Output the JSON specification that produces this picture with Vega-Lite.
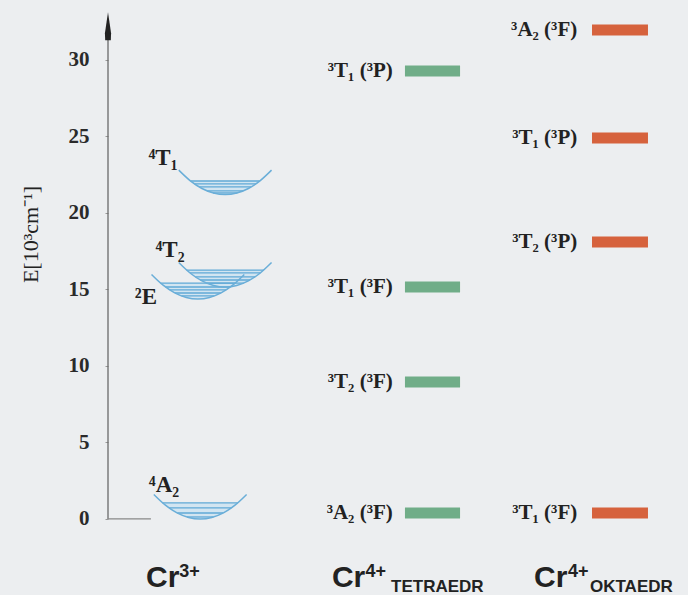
{
  "$schema": "https://vega.github.io/schema/vega-lite/v6.json",
  "width": 580,
  "height": 595,
  "autosize": "none",
  "padding": {"left": 108, "top": 0, "right": 0, "bottom": 0},
  "background": "#eceef0",
  "config": {"view": {"stroke": null}, "axis": {"grid": false}},
  "datasets": {
    "curves": [
      {"well": "4A2", "u": 7.9, "v": 1.6}, {"well": "4A2", "u": 9.9, "v": 0.9}, {"well": "4A2", "u": 11.9, "v": 0.4}, {"well": "4A2", "u": 13.9, "v": 0.1}, {"well": "4A2", "u": 15.9, "v": 0}, {"well": "4A2", "u": 17.9, "v": 0.1}, {"well": "4A2", "u": 19.9, "v": 0.4}, {"well": "4A2", "u": 21.9, "v": 0.9}, {"well": "4A2", "u": 23.9, "v": 1.6},
      {"well": "4T1", "u": 12.2, "v": 22.8}, {"well": "4T1", "u": 14.2, "v": 22.1}, {"well": "4T1", "u": 16.2, "v": 21.6}, {"well": "4T1", "u": 18.2, "v": 21.3}, {"well": "4T1", "u": 20.2, "v": 21.2}, {"well": "4T1", "u": 22.2, "v": 21.3}, {"well": "4T1", "u": 24.2, "v": 21.6}, {"well": "4T1", "u": 26.2, "v": 22.1}, {"well": "4T1", "u": 28.2, "v": 22.8},
      {"well": "4T2", "u": 12.2, "v": 16.76}, {"well": "4T2", "u": 14.2, "v": 16.06}, {"well": "4T2", "u": 16.2, "v": 15.56}, {"well": "4T2", "u": 18.2, "v": 15.26}, {"well": "4T2", "u": 20.2, "v": 15.16}, {"well": "4T2", "u": 22.2, "v": 15.26}, {"well": "4T2", "u": 24.2, "v": 15.56}, {"well": "4T2", "u": 26.2, "v": 16.06}, {"well": "4T2", "u": 28.2, "v": 16.76},
      {"well": "2E", "u": 7.5, "v": 15.98}, {"well": "2E", "u": 9.5, "v": 15.28}, {"well": "2E", "u": 11.5, "v": 14.78}, {"well": "2E", "u": 13.5, "v": 14.48}, {"well": "2E", "u": 15.5, "v": 14.38}, {"well": "2E", "u": 17.5, "v": 14.48}, {"well": "2E", "u": 19.5, "v": 14.78}, {"well": "2E", "u": 21.5, "v": 15.28}, {"well": "2E", "u": 23.5, "v": 15.98}
    ],
    "fills": [
      {"well": "4A2", "u": 9.42, "v": 1.05, "v2": 1.05}, {"well": "4A2", "u": 11.9, "v": 0.4, "v2": 1.05}, {"well": "4A2", "u": 13.9, "v": 0.1, "v2": 1.05}, {"well": "4A2", "u": 15.9, "v": 0, "v2": 1.05}, {"well": "4A2", "u": 17.9, "v": 0.1, "v2": 1.05}, {"well": "4A2", "u": 19.9, "v": 0.4, "v2": 1.05}, {"well": "4A2", "u": 22.38, "v": 1.05, "v2": 1.05},
      {"well": "4T1", "u": 14.23, "v": 22.09, "v2": 22.09}, {"well": "4T1", "u": 16.2, "v": 21.6, "v2": 22.09}, {"well": "4T1", "u": 18.2, "v": 21.3, "v2": 22.09}, {"well": "4T1", "u": 20.2, "v": 21.2, "v2": 22.09}, {"well": "4T1", "u": 22.2, "v": 21.3, "v2": 22.09}, {"well": "4T1", "u": 24.2, "v": 21.6, "v2": 22.09}, {"well": "4T1", "u": 26.17, "v": 22.09, "v2": 22.09},
      {"well": "2E", "u": 9.05, "v": 15.42, "v2": 15.42}, {"well": "2E", "u": 9.5, "v": 15.28, "v2": 15.42}, {"well": "2E", "u": 11.5, "v": 14.78, "v2": 15.42}, {"well": "2E", "u": 13.5, "v": 14.48, "v2": 15.42}, {"well": "2E", "u": 15.5, "v": 14.38, "v2": 15.42}, {"well": "2E", "u": 17.5, "v": 14.48, "v2": 15.42}, {"well": "2E", "u": 19.5, "v": 14.78, "v2": 15.42}, {"well": "2E", "u": 21.5, "v": 15.28, "v2": 15.42}, {"well": "2E", "u": 21.95, "v": 15.42, "v2": 15.42},
      {"well": "4T2", "u": 13.54, "v": 16.27, "v2": 16.27}, {"well": "4T2", "u": 14.2, "v": 16.06, "v2": 16.27}, {"well": "4T2", "u": 16.2, "v": 15.56, "v2": 16.27}, {"well": "4T2", "u": 18.2, "v": 15.26, "v2": 16.27}, {"well": "4T2", "u": 20.2, "v": 15.16, "v2": 16.27}, {"well": "4T2", "u": 22.2, "v": 15.26, "v2": 16.27}, {"well": "4T2", "u": 24.2, "v": 15.56, "v2": 16.27}, {"well": "4T2", "u": 26.2, "v": 16.06, "v2": 16.27}, {"well": "4T2", "u": 26.86, "v": 16.27, "v2": 16.27}
    ],
    "levels": [
      {"well": "4A2", "v": 1.05, "u": 9.42, "u2": 22.38}, {"well": "4A2", "v": 0.72, "u": 10.53, "u2": 21.27}, {"well": "4A2", "v": 0.39, "u": 11.95, "u2": 19.85}, {"well": "4A2", "v": 0.13, "u": 13.62, "u2": 18.18},
      {"well": "4T1", "v": 22.09, "u": 14.23, "u2": 26.17}, {"well": "4T1", "v": 21.9, "u": 14.91, "u2": 25.49}, {"well": "4T1", "v": 21.7, "u": 15.73, "u2": 24.67}, {"well": "4T1", "v": 21.44, "u": 17.1, "u2": 23.3}, {"well": "4T1", "v": 21.31, "u": 18.1, "u2": 22.3},
      {"well": "4T2", "v": 16.27, "u": 13.54, "u2": 26.86}, {"well": "4T2", "v": 16.08, "u": 14.13, "u2": 26.27}, {"well": "4T2", "v": 15.82, "u": 15.06, "u2": 25.34}, {"well": "4T2", "v": 15.62, "u": 15.91, "u2": 24.49}, {"well": "4T2", "v": 15.42, "u": 16.98, "u2": 23.42},
      {"well": "2E", "v": 15.42, "u": 9.05, "u2": 21.95}, {"well": "2E", "v": 15.16, "u": 9.91, "u2": 21.09}, {"well": "2E", "v": 14.97, "u": 10.64, "u2": 20.36}, {"well": "2E", "v": 14.77, "u": 11.55, "u2": 19.45}, {"well": "2E", "v": 14.58, "u": 12.67, "u2": 18.33}
    ],
    "bars": [
      {"site": "tetra", "v": 29.28, "u": 51.2, "u2": 60.7},
      {"site": "tetra", "v": 15.16, "u": 51.2, "u2": 60.7},
      {"site": "tetra", "v": 8.95, "u": 51.2, "u2": 60.7},
      {"site": "tetra", "v": 0.39, "u": 51.2, "u2": 60.7},
      {"site": "okta", "v": 31.96, "u": 83.45, "u2": 93.1},
      {"site": "okta", "v": 24.9, "u": 83.45, "u2": 93.1},
      {"site": "okta", "v": 18.1, "u": 83.45, "u2": 93.1},
      {"site": "okta", "v": 0.39, "u": 83.45, "u2": 93.1}
    ],
    "barLabels": [
      {"label": "³T₁ (³P)", "v": 29.28, "u": 49.1},
      {"label": "³T₁ (³F)", "v": 15.16, "u": 49.1},
      {"label": "³T₂ (³F)", "v": 8.95, "u": 49.1},
      {"label": "³A₂ (³F)", "v": 0.39, "u": 49.1},
      {"label": "³A₂ (³F)", "v": 31.96, "u": 80.9},
      {"label": "³T₁ (³P)", "v": 24.9, "u": 80.9},
      {"label": "³T₂ (³P)", "v": 18.1, "u": 80.9},
      {"label": "³T₁ (³F)", "v": 0.39, "u": 80.9}
    ],
    "wellLabels": [
      {"label": "⁴T₁", "u": 9.48, "v": 23.6},
      {"label": "⁴T₂", "u": 10.69, "v": 17.58},
      {"label": "²E", "u": 6.55, "v": 14.5},
      {"label": "⁴A₂", "u": 9.66, "v": 2.22}
    ],
    "ionBig": [
      {"label": "Cr", "u": 6.55, "v": -4.44},
      {"label": "Cr", "u": 38.6, "v": -4.44},
      {"label": "Cr", "u": 73.45, "v": -4.44}
    ],
    "ionSup": [
      {"label": "3+", "u": 12.3, "v": -3.8},
      {"label": "4+", "u": 44.4, "v": -3.8},
      {"label": "4+", "u": 79.3, "v": -3.8}
    ],
    "ionSub": [
      {"label": "TETRAEDR", "u": 48.8, "v": -4.75},
      {"label": "OKTAEDR", "u": 83.1, "v": -4.75}
    ],
    "axisLine": [{"u": 0, "v": 0, "v2": 32.0}],
    "baseLine": [{"u": 0, "u2": 7.4, "v": 0}],
    "arrow": [{"u": 0, "v": 32.2}]
  },
  "encoding": {
    "x": {"field": "u", "type": "quantitative", "scale": {"domain": [0, 100], "nice": false, "zero": false}, "axis": null},
    "y": {"field": "v", "type": "quantitative", "scale": {"domain": [-4.97, 33.92], "nice": false, "zero": false},
      "axis": {"values": [0, 5, 10, 15, 20, 25, 30], "domain": false, "tickSize": 3, "tickColor": "#999999",
        "labelFont": "Liberation Serif", "labelFontSize": 21, "labelFontWeight": "bold", "labelColor": "#2a2a2a", "labelPadding": 16,
        "title": "E[10³cm⁻¹]", "titleFont": "Liberation Serif", "titleFontSize": 22, "titleFontWeight": "normal",
        "titleColor": "#222222", "titleX": -66, "titleY": 234}}
  },
  "layer": [
    {
      "data": {"name": "axisLine"},
      "mark": {"type": "rule", "color": "#6a6a6a", "strokeWidth": 1.3},
      "encoding": {"y2": {"field": "v2"}}
    },
    {
      "data": {"name": "baseLine"},
      "mark": {"type": "rule", "color": "#888888", "strokeWidth": 1.3},
      "encoding": {"x2": {"field": "u2"}}
    },
    {
      "data": {"name": "arrow"},
      "mark": {"type": "point", "shape": "M0,-1L0.22,0.5L0.2,1L-0.2,1L-0.22,0.5Z", "size": 784, "filled": true, "color": "#222222", "opacity": 1},
      "encoding": {}
    },
    {
      "data": {"name": "fills"},
      "mark": {"type": "area", "interpolate": "monotone", "color": "#cfe3f1", "opacity": 0.9},
      "encoding": {"y2": {"field": "v2"}, "detail": {"field": "well"}}
    },
    {
      "data": {"name": "levels"},
      "mark": {"type": "rule", "color": "#5fa8d6", "strokeWidth": 1.3},
      "encoding": {"x2": {"field": "u2"}}
    },
    {
      "data": {"name": "curves"},
      "mark": {"type": "line", "interpolate": "monotone", "color": "#6aaed8", "strokeWidth": 1.5},
      "encoding": {"detail": {"field": "well"}}
    },
    {
      "data": {"name": "bars"},
      "mark": {"type": "rule", "strokeWidth": 11, "strokeCap": "butt"},
      "encoding": {
        "x2": {"field": "u2"},
        "color": {"field": "site", "type": "nominal", "scale": {"domain": ["tetra", "okta"], "range": ["#70ad88", "#d6623d"]}, "legend": null}
      }
    },
    {
      "data": {"name": "barLabels"},
      "mark": {"type": "text", "align": "right", "baseline": "middle", "font": "Liberation Serif", "fontSize": 21, "fontWeight": "bold", "color": "#222222"},
      "encoding": {"text": {"field": "label"}}
    },
    {
      "data": {"name": "wellLabels"},
      "mark": {"type": "text", "align": "center", "baseline": "middle", "font": "Liberation Serif", "fontSize": 23, "fontWeight": "bold", "color": "#222222"},
      "encoding": {"text": {"field": "label"}}
    },
    {
      "data": {"name": "ionBig"},
      "mark": {"type": "text", "align": "left", "baseline": "alphabetic", "font": "Liberation Sans", "fontSize": 30, "fontWeight": "bold", "color": "#222222"},
      "encoding": {"text": {"field": "label"}}
    },
    {
      "data": {"name": "ionSup"},
      "mark": {"type": "text", "align": "left", "baseline": "alphabetic", "font": "Liberation Sans", "fontSize": 18, "fontWeight": "bold", "color": "#222222"},
      "encoding": {"text": {"field": "label"}}
    },
    {
      "data": {"name": "ionSub"},
      "mark": {"type": "text", "align": "left", "baseline": "alphabetic", "font": "Liberation Sans", "fontSize": 17, "fontWeight": "bold", "color": "#222222"},
      "encoding": {"text": {"field": "label"}}
    }
  ]
}
